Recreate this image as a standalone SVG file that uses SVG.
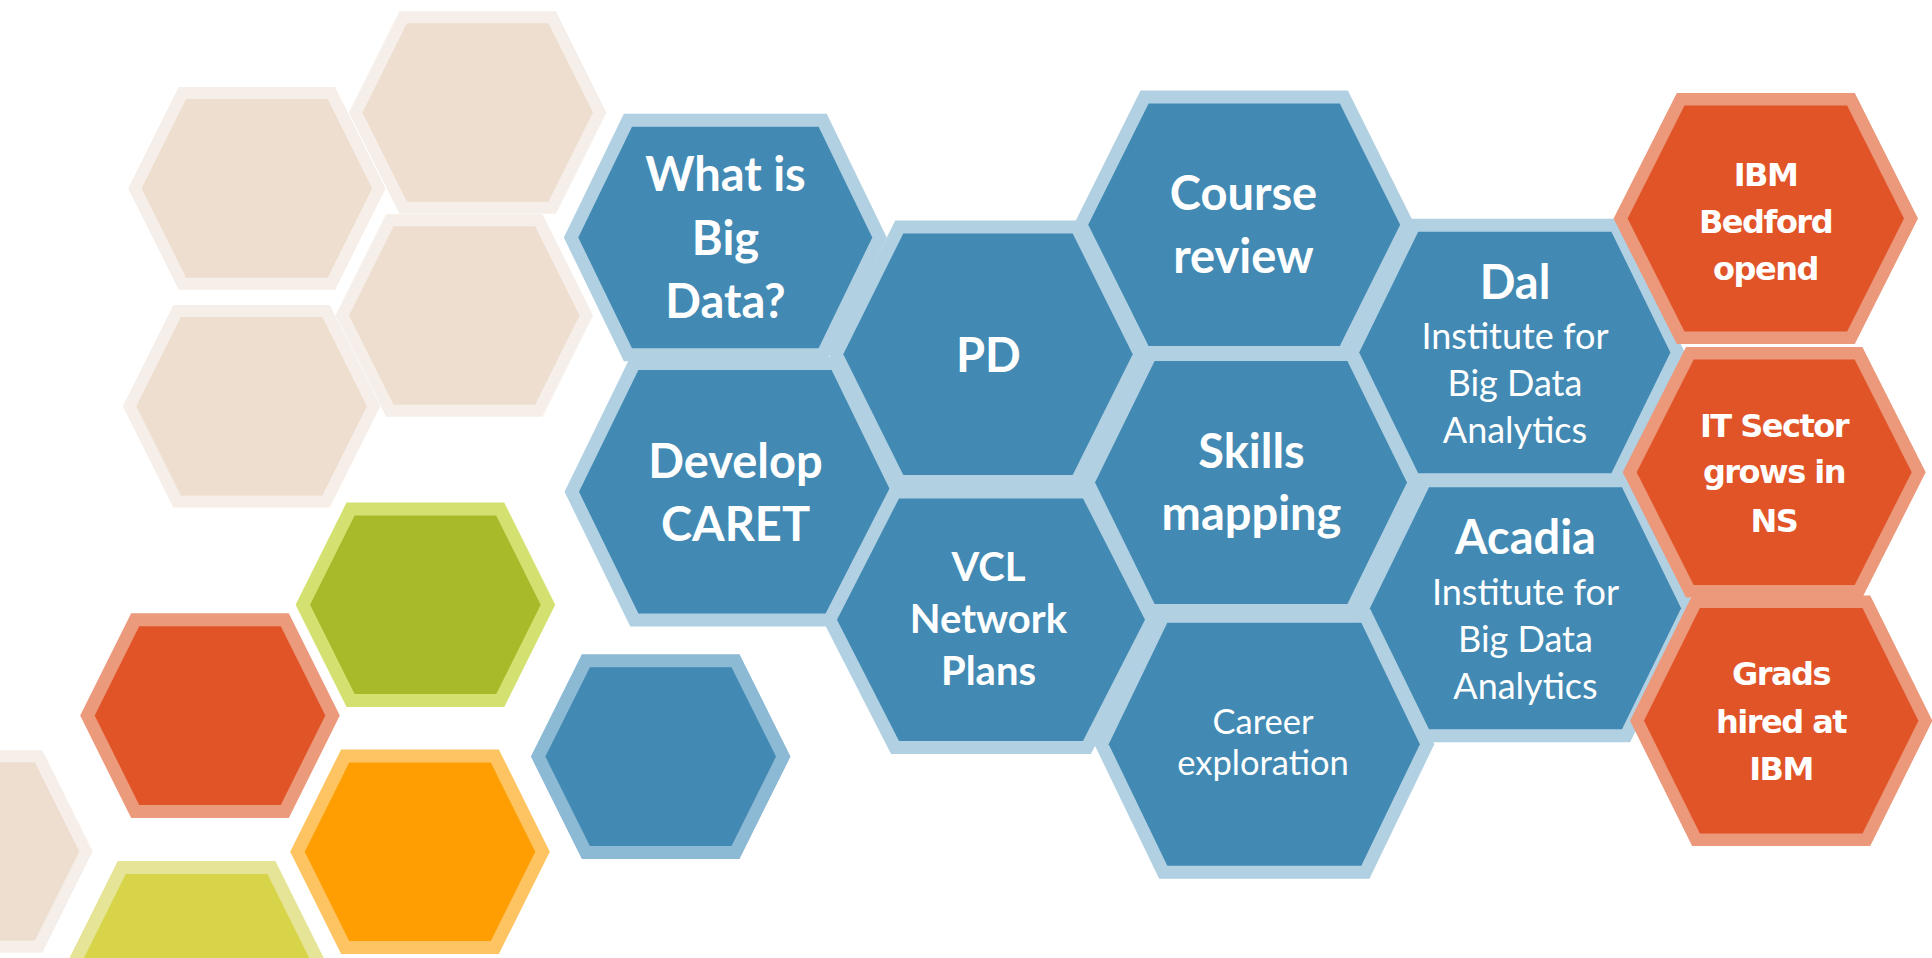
<svg xmlns="http://www.w3.org/2000/svg" xmlns:xlink="http://www.w3.org/1999/xlink" width="1932" height="958" viewBox="0 0 1932 958">
  <defs>
    <!-- small hexagon shape, centred on the origin -->
    <polygon id="hexS" points="-70.8,-89.3 70.8,-89.3 115.3,0 70.8,89.3 -70.8,89.3 -115.3,0"/>
    <style>
      .hex { paint-order: stroke; stroke-linejoin: miter; }
      .beige  { fill: #EEDECF; stroke: #F6EEE8; stroke-width: 24; }
      .green  { fill: #A8B92A; stroke: #D4E170; stroke-width: 26; }
      .red    { fill: #E05428; stroke: #EC9A7C; stroke-width: 26; }
      .orange { fill: #FE9E03; stroke: #FEC462; stroke-width: 26; }
      .yellow { fill: #D8D449; stroke: #E6E497; stroke-width: 26; }
      .lone   { fill: #4289B3; stroke: #8CB9D4; stroke-width: 26; }
      .blue   { fill: #428AB3; stroke: #B1D0E2; stroke-width: 26; }
      .ibm    { fill: #E05428; stroke: #EB987B; stroke-width: 25; }
      text { fill: #FFFFFF; text-anchor: middle; }
      .tb { font-family: Lato, "Open Sans", sans-serif; font-weight: 700; font-size: 47px; }
      .tm { font-family: Lato, "Open Sans", sans-serif; font-weight: 700; font-size: 40px; }
      .tr { font-family: Lato, "Open Sans", sans-serif; font-weight: 400; font-size: 36px; }
      .tc { font-family: Lato, "Open Sans", sans-serif; font-weight: 400; font-size: 34.5px; }
      .tx { font-family: "DejaVu Sans", Verdana, sans-serif; font-weight: 700; font-size: 32px; letter-spacing: -1.5px; }
    </style>
  </defs>

  <!-- pale background hexagons -->
  <g id="background">
    <use href="#hexS" class="hex beige" x="477.7" y="112.5"/>
    <use href="#hexS" class="hex beige" x="256.9" y="188.4"/>
    <use href="#hexS" class="hex beige" x="464.3" y="315.5"/>
    <use href="#hexS" class="hex beige" x="251.6" y="406.3"/>
    <use href="#hexS" class="hex beige" x="-36" y="851.5"/>
    <use href="#hexS" class="hex green" x="425.4" y="604.8"/>
    <use href="#hexS" class="hex red" x="210" y="715.6"/>
    <use href="#hexS" class="hex orange" x="420" y="851.7"/>
    <use href="#hexS" class="hex yellow" x="196.6" y="963.3"/>
    <use href="#hexS" class="hex lone" x="660.7" y="756.6"/>
  </g>

  <g id="what-is-big-data">
    <polygon class="hex blue" points="632,126.7 818.6,126.7 872.3,237.5 818.6,348.3 632,348.3 578.3,237.5"/>
    <text class="tb" x="725.5" y="190.7">What is</text>
    <text class="tb" x="725.5" y="255">Big</text>
    <text class="tb" x="725.5" y="318.3">Data?</text>
  </g>

  <g id="develop-caret">
    <polygon class="hex blue" points="638.4,370.1 831.6,370.1 891,491.8 831.6,613.5 638.4,613.5 579,491.8"/>
    <text class="tb" x="735.5" y="478.3">Develop</text>
    <text class="tb" x="735.5" y="541">CARET</text>
  </g>

  <g id="pd">
    <polygon class="hex blue" points="903.3,233.4 1072.7,233.4 1132.7,354.2 1072.7,475 903.3,475 843.3,354.2"/>
    <text class="tb" x="988.3" y="371.7">PD</text>
  </g>

  <g id="vcl-network-plans">
    <polygon class="hex blue" points="899,498.4 1083,498.4 1145,619.7 1083,741 899,741 837,619.7"/>
    <text class="tm" x="988.5" y="581">VCL</text>
    <text class="tm" x="988.5" y="633.3">Network</text>
    <text class="tm" x="988.5" y="685">Plans</text>
  </g>

  <g id="course-review">
    <polygon class="hex blue" points="1148.6,103.4 1339.8,103.4 1400.2,224.7 1339.8,346 1148.6,346 1088.2,224.7"/>
    <text class="tb" x="1243.5" y="210">Course</text>
    <text class="tb" x="1243.5" y="273.3">review</text>
  </g>

  <g id="skills-mapping">
    <polygon class="hex blue" points="1154.6,361 1347.4,361 1407,482.5 1347.4,604 1154.6,604 1095,482.5"/>
    <text class="tb" x="1251.5" y="468.3">Skills</text>
    <text class="tb" x="1251.5" y="530">mapping</text>
  </g>

  <g id="career-exploration">
    <polygon class="hex blue" points="1167.3,622.7 1361.3,622.7 1419.9,744.2 1361.3,865.7 1167.3,865.7 1108.7,744.2"/>
    <text class="tc" x="1263" y="734">Career</text>
    <text class="tc" x="1263" y="775">exploration</text>
  </g>

  <g id="dal">
    <polygon class="hex blue" points="1418.2,231.7 1611.4,231.7 1670.4,352.5 1611.4,473.3 1418.2,473.3 1359.2,352.5"/>
    <text class="tb" x="1515" y="299">Dal</text>
    <text class="tr" x="1515" y="349.3">Institute for</text>
    <text class="tr" x="1515" y="396">Big Data</text>
    <text class="tr" x="1515" y="443.3">Analytics</text>
  </g>

  <g id="acadia">
    <polygon class="hex blue" points="1429,487.3 1622,487.3 1681.1,608.3 1622,729.3 1429,729.3 1369.9,608.3"/>
    <text class="tb" x="1525.5" y="554.3">Acadia</text>
    <text class="tr" x="1525.5" y="605">Institute for</text>
    <text class="tr" x="1525.5" y="651.7">Big Data</text>
    <text class="tr" x="1525.5" y="699.3">Analytics</text>
  </g>

  <g id="ibm-bedford">
    <polygon class="hex ibm" points="1684.5,105.5 1847.1,105.5 1904,218.5 1847.1,331.5 1684.5,331.5 1627.6,218.5"/>
    <text class="tx" x="1765.5" y="185.6">IBM</text>
    <text class="tx" x="1765.5" y="233">Bedford</text>
    <text class="tx" x="1765.5" y="280">opend</text>
  </g>

  <g id="it-sector">
    <polygon class="hex ibm" points="1693.7,359.6 1854.7,359.6 1911.7,472.3 1854.7,585 1693.7,585 1636.7,472.3"/>
    <text class="tx" x="1774" y="437">IT Sector</text>
    <text class="tx" x="1774" y="483">grows in</text>
    <text class="tx" x="1774" y="531.5">NS</text>
  </g>

  <g id="grads-hired">
    <polygon class="hex ibm" points="1699.9,608 1862.5,608 1918.4,720.8 1862.5,833.6 1699.9,833.6 1644,720.8"/>
    <text class="tx" x="1781" y="684.6">Grads</text>
    <text class="tx" x="1781" y="733">hired at</text>
    <text class="tx" x="1781" y="780">IBM</text>
  </g>

  <g id="connectors"/>
</svg>
